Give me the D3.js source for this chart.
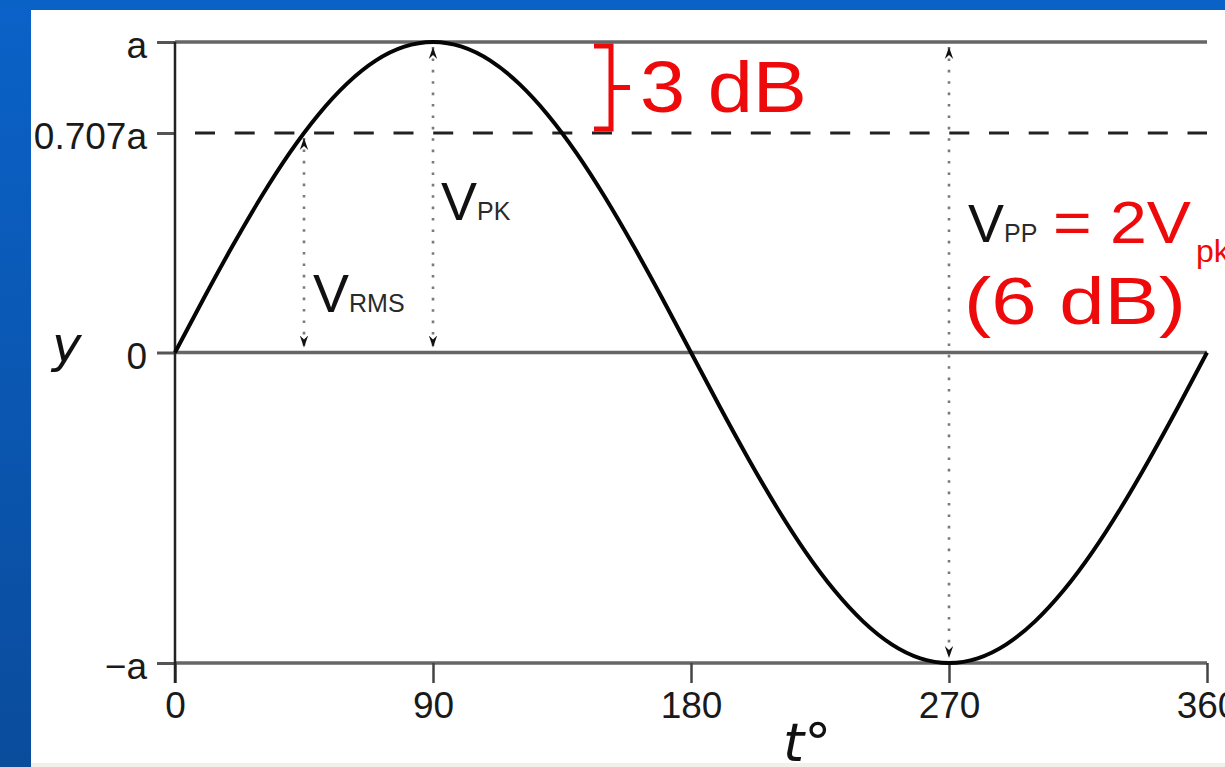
<!DOCTYPE html>
<html>
<head>
<meta charset="utf-8">
<script src="https://cdn.jsdelivr.net/npm/d3@7"></script>
<style>
  html, body { margin: 0; padding: 0; background: #fff; }
  svg { display: block; }
</style>
</head>
<body>
<svg id="chart" width="1225" height="767"></svg>
<script>
// ---- data ----
const xTickValues = [0, 90, 180, 270, 360];
const xTickLabels = ["0", "90", "180", "270", "360"];
const yTickValues = [1, 0.707, 0, -1];
const yTickLabels = ["a", "0.707a", "0", "\u2212a"];
const solidLevels = [1, 0, -1];
const dashedLevels = [0.707];
// sine wave read every 10 degrees
const waveT = [0,10,20,30,40,50,60,70,80,90,100,110,120,130,140,150,160,170,180,
               190,200,210,220,230,240,250,260,270,280,290,300,310,320,330,340,350,360];
const waveY = [0,0.174,0.342,0.5,0.643,0.766,0.866,0.940,0.985,1,0.985,0.940,0.866,0.766,0.643,0.5,0.342,0.174,0,
               -0.174,-0.342,-0.5,-0.643,-0.766,-0.866,-0.940,-0.985,-1,-0.985,-0.940,-0.866,-0.766,-0.643,-0.5,-0.342,-0.174,0];
// measurement arrows: position (deg), from level, to level
const arrowT = [45, 90, 270];
const arrowFrom = [0.707, 1, 1];
const arrowTo = [0, 0, -1];

const svg = d3.select("#chart");
const W = 1225, H = 767;

// ---- background frame ----
const defs = svg.append("defs");
const g1 = defs.append("linearGradient").attr("id", "leftBlue")
  .attr("x1", 0).attr("y1", 0).attr("x2", 0).attr("y2", 1);
g1.append("stop").attr("offset", "0%").attr("stop-color", "#0b62c8");
g1.append("stop").attr("offset", "100%").attr("stop-color", "#0a4c9c");

svg.append("rect").attr("width", W).attr("height", H).attr("fill", "#ffffff");
svg.append("rect").attr("x", 0).attr("y", 0).attr("width", 31).attr("height", H).attr("fill", "url(#leftBlue)");
svg.append("rect").attr("x", 0).attr("y", 0).attr("width", W).attr("height", 10).attr("fill", "#0a62c6");
svg.append("rect").attr("x", 31).attr("y", 763).attr("width", W - 31).attr("height", 4).attr("fill", "#f1f1e9");

// ---- scales ----
const x = d3.scaleLinear().domain([0, 360]).range([175, 1207]);
const y = d3.scaleLinear().domain([-1, 1]).range([663, 42]);

// marker
defs.append("marker").attr("id", "ah")
  .attr("viewBox", "-12 -5 12 10").attr("refX", 0).attr("refY", 0)
  .attr("markerWidth", 12).attr("markerHeight", 10)
  .attr("markerUnits", "userSpaceOnUse").attr("orient", "auto-start-reverse")
  .append("path").attr("d", "M0,0 L-12,-4.2 L-8,0 L-12,4.2 Z").attr("fill", "#111");

// ---- level lines ----
svg.append("g").selectAll("line").data(solidLevels).join("line")
  .attr("x1", x(0)).attr("x2", x(360))
  .attr("y1", d => y(d)).attr("y2", d => y(d))
  .attr("stroke", "#666").attr("stroke-width", 3.4);

svg.append("g").selectAll("line").data(dashedLevels).join("line")
  .attr("x1", x(0) + 20).attr("x2", x(360))
  .attr("y1", d => y(d)).attr("y2", d => y(d))
  .attr("stroke", "#222").attr("stroke-width", 3)
  .attr("stroke-dasharray", "20,19.7");

// ---- y axis ----
const yAxis = d3.axisLeft(y).tickValues(yTickValues)
  .tickFormat((d, i) => yTickLabels[i]).tickSize(18).tickPadding(10);
const gy = svg.append("g").attr("transform", `translate(${x(0)},0)`).call(yAxis);
gy.select(".domain").remove();
gy.selectAll(".tick line").attr("stroke", "#555").attr("stroke-width", 3);
gy.selectAll(".tick text").attr("font-family", "Liberation Sans, Arial, sans-serif")
  .attr("font-size", 37).attr("fill", "#1a1a1a").attr("dy", "0.42em");

// ---- x axis ----
const xAxis = d3.axisBottom(x).tickValues(xTickValues)
  .tickFormat((d, i) => xTickLabels[i]).tickSize(20).tickPadding(9);
const gx = svg.append("g").attr("transform", `translate(0,${y(-1)})`).call(xAxis);
gx.select(".domain").remove();
gx.selectAll(".tick line").attr("stroke", "#444").attr("stroke-width", 2.5);
gx.selectAll(".tick text").attr("font-family", "Liberation Sans, Arial, sans-serif")
  .attr("font-size", 37).attr("fill", "#1a1a1a");

// vertical axis line
svg.append("line").attr("x1", x(0)).attr("x2", x(0))
  .attr("y1", y(1)).attr("y2", y(-1) + 20)
  .attr("stroke", "#222").attr("stroke-width", 2.5);

// ---- dotted measurement arrows ----
svg.append("g").selectAll("line").data(arrowT).join("line")
  .attr("x1", d => x(d)).attr("x2", d => x(d))
  .attr("y1", (d, i) => y(arrowFrom[i]) + 5)
  .attr("y2", (d, i) => y(arrowTo[i]) - 5)
  .attr("stroke", "#7a7a7a").attr("stroke-width", 2.6)
  .attr("stroke-dasharray", "2.6,8.8")
  .attr("marker-start", "url(#ah)").attr("marker-end", "url(#ah)");

// ---- sine wave ----
const line = d3.line().x((d, i) => x(waveT[i])).y(d => y(d)).curve(d3.curveNatural);
svg.append("path").datum(waveY).attr("d", line)
  .attr("fill", "none").attr("stroke", "#050505").attr("stroke-width", 4);

// ---- axis titles ----
svg.append("text").attr("x", 52).attr("y", 362)
  .attr("font-family", "DejaVu Sans, sans-serif").attr("font-style", "italic")
  .attr("font-size", 50).attr("fill", "#111").text("y");
svg.append("text").attr("x", 783).attr("y", 761)
  .attr("font-family", "DejaVu Sans, sans-serif").attr("font-style", "italic")
  .attr("font-size", 54).attr("fill", "#111").text("t\u00B0");

// ---- V labels ----
const FF = "Liberation Sans, Arial, sans-serif";
function vLabel(xp, yp, sub) {
  const t = svg.append("text").attr("x", xp).attr("y", yp).attr("font-family", FF).attr("fill", "#111");
  t.append("tspan").attr("font-size", 54).text("V");
  t.append("tspan").attr("font-size", 25).attr("fill", "#2a2a2a").text(sub);
  return t;
}
vLabel(441, 220, "PK");
vLabel(313, 312, "RMS");
vLabel(968, 242, "PP");

// ---- red annotations ----
const RED = "#ee0a0a";
svg.append("text").attr("x", 1053).attr("y", 243).attr("font-family", FF)
  .attr("font-size", 60).attr("fill", RED)
  .attr("textLength", 138).attr("lengthAdjust", "spacingAndGlyphs").text("= 2V");
svg.append("text").attr("x", 1196).attr("y", 262).attr("font-family", FF)
  .attr("font-size", 32).attr("fill", RED).text("pk");
svg.append("text").attr("x", 964).attr("y", 324).attr("font-family", FF)
  .attr("font-size", 66).attr("fill", RED)
  .attr("textLength", 222).attr("lengthAdjust", "spacingAndGlyphs").text("(6 dB)");
svg.append("text").attr("x", 640).attr("y", 112).attr("font-family", FF)
  .attr("font-size", 72).attr("fill", RED)
  .attr("textLength", 167).attr("lengthAdjust", "spacingAndGlyphs").text("3 dB");

// bracket between a and 0.707a
svg.append("path")
  .attr("d", `M594,${y(1) + 4} H611 V${y(0.707) - 4} H594 M611,${(y(1) + y(0.707)) / 2} H630`)
  .attr("fill", "none").attr("stroke", RED).attr("stroke-width", 5);
</script>
</body>
</html>
